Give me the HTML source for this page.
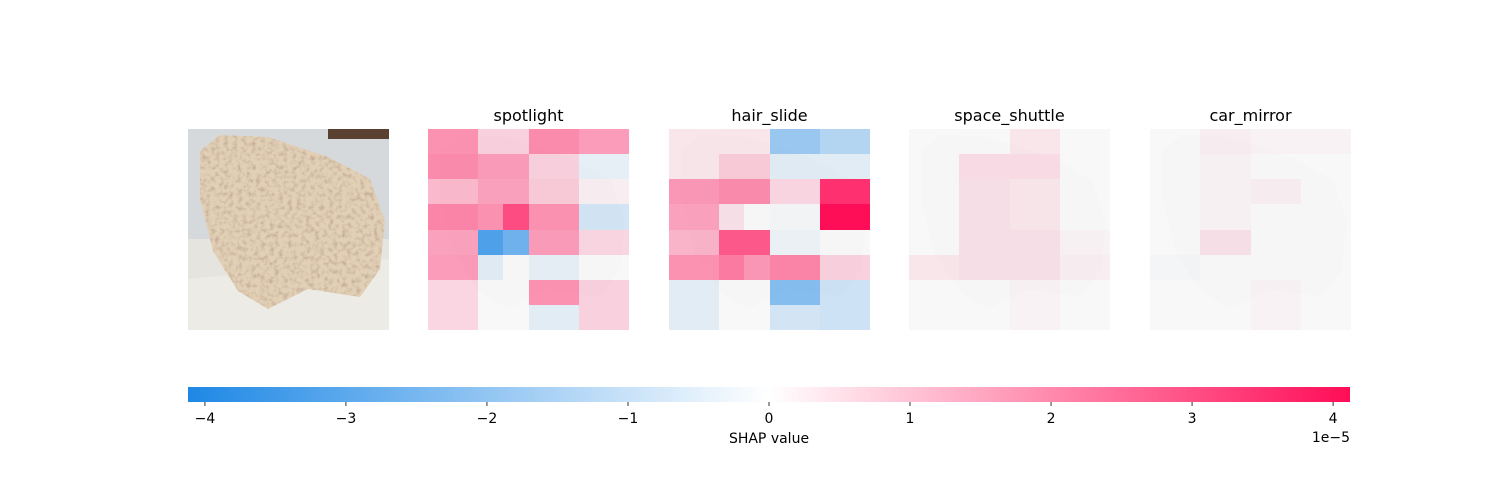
<!DOCTYPE html>
<html><head><meta charset="utf-8"><style>
html,body{margin:0;padding:0;background:#fff;width:1500px;height:500px;overflow:hidden;font-family:"Liberation Sans","DejaVu Sans",sans-serif;}
svg text{font-family:"DejaVu Sans","Liberation Sans",sans-serif;}
</style></head><body>
<svg id="chart" width="1500" height="500" xmlns="http://www.w3.org/2000/svg">
<defs>
<filter id="tex" x="0" y="0" width="100%" height="100%">
<feTurbulence type="fractalNoise" baseFrequency="0.22" numOctaves="3" seed="4" result="n"/>
<feColorMatrix in="n" type="matrix" values="0 0 0 0 0.55  0 0 0 0 0.4  0 0 0 0 0.3  0 0 0 -2.2 1.25" result="spots"/>
<feComposite in="spots" in2="SourceGraphic" operator="in" result="s2"/>
<feMerge><feMergeNode in="SourceGraphic"/><feMergeNode in="s2"/></feMerge>
</filter>
<clipPath id="imgclip"><rect x="0" y="0" width="201" height="201"/></clipPath>
<linearGradient id="cbar" x1="0" x2="1" y1="0" y2="0">
<stop offset="0" stop-color="rgb(30,136,229)"/>
<stop offset="0.5" stop-color="rgb(255,255,255)"/>
<stop offset="1" stop-color="rgb(255,13,87)"/>
</linearGradient>
<g id="cakeGray">
<rect x="0" y="0" width="201" height="201" fill="#d4d4d4"/>
<polygon points="12,22 32,6 80,8 140,28 182,50 197,92 192,140 172,168 120,160 80,180 50,162 25,122 12,70" fill="#c4c4c4"/>
</g>
</defs>
<g id="orig" transform="translate(188,129)" clip-path="url(#imgclip)">
<rect x="0" y="0" width="201" height="201" fill="#d6d9db"/>
<rect x="140" y="0" width="61" height="10" fill="#5a4030"/>
<rect x="0" y="110" width="201" height="91" fill="#e6e4de"/>
<polygon points="0,150 201,130 201,201 0,201" fill="#ecebe6"/>
<polygon points="12,22 32,6 80,8 140,28 182,50 197,92 192,140 172,168 120,160 80,180 50,162 25,122 12,70" fill="#e2d0b6" filter="url(#tex)"/>
</g>
<g id="panels"></g>
<g id="cbarg">
<rect x="188" y="387" width="1162" height="15" fill="url(#cbar)"/>
</g>
<g id="cticks"></g>
<text x="769" y="443" text-anchor="middle" font-size="14" fill="#000">SHAP value</text>
<text x="1350" y="442" text-anchor="end" font-size="14" fill="#000">1e−5</text>
</svg>
<script>
const classNames = ["spotlight","hair_slide","space_shuttle","car_mirror"];
const spotlight = [
[1.8,1.8,0.7,0.7,1.9,1.9,1.6,1.6],
[1.9,1.9,1.6,1.6,0.7,0.7,-0.3,-0.3],
[1.1,1.1,1.5,1.5,0.8,0.8,0.2,0.2],
[2.0,2.0,1.8,3.0,1.8,1.8,-0.7,-0.7],
[1.5,1.5,-3.2,-2.6,1.6,1.6,0.6,0.6],
[1.6,1.6,-0.4,0.0,-0.3,-0.3,0.0,0.0],
[0.6,0.6,0.0,0.0,1.8,1.8,0.7,0.7],
[0.6,0.6,0.0,0.0,-0.4,-0.4,0.7,0.7]];
const hairSlide = [
[0.3,0.3,0.3,0.3,-1.8,-1.8,-1.3,-1.3],
[0.3,0.3,0.8,0.8,-0.4,-0.4,-0.4,-0.4],
[1.7,1.7,1.9,1.9,0.6,0.6,3.5,3.5],
[1.5,1.5,0.4,0.0,-0.1,-0.1,4.1,4.1],
[1.2,1.2,2.8,2.8,-0.2,-0.2,0.0,0.0],
[1.8,1.8,2.2,1.7,2.0,2.0,0.7,0.7],
[-0.4,-0.4,0.0,0.0,-2.2,-2.2,-0.8,-0.8],
[-0.4,-0.4,0.0,0.0,-0.7,-0.7,-0.8,-0.8]];
const spaceShuttle = [
[0.0,0.0,0.0,0.0,0.3,0.3,0.0,0.0],
[0.0,0.0,0.5,0.5,0.5,0.5,0.0,0.0],
[0.0,0.0,0.4,0.4,0.3,0.3,0.0,0.0],
[0.0,0.0,0.4,0.4,0.3,0.3,0.0,0.0],
[0.0,0.0,0.4,0.4,0.4,0.4,0.1,0.1],
[0.3,0.3,0.4,0.4,0.4,0.4,0.2,0.2],
[0.0,0.0,0.0,0.0,0.1,0.1,0.0,0.0],
[0.0,0.0,0.0,0.0,0.1,0.1,0.0,0.0]];
const carMirror = [
[0.0,0.0,0.2,0.2,0.1,0.1,0.1,0.1],
[0.0,0.0,0.1,0.1,0.0,0.0,0.0,0.0],
[0.0,0.0,0.1,0.1,0.2,0.2,0.0,0.0],
[0.0,0.0,0.1,0.1,0.0,0.0,0.0,0.0],
[0.0,0.0,0.4,0.4,0.0,0.0,0.0,0.0],
[-0.1,-0.1,0.0,0.0,0.0,0.0,0.0,0.0],
[0.0,0.0,0.0,0.0,0.1,0.1,0.0,0.0],
[0.0,0.0,0.0,0.0,0.1,0.1,0.0,0.0]];
const tickValues = [-4,-3,-2,-1,0,1,2,3,4];
const tickLabels = ["−4","−3","−2","−1","0","1","2","3","4"];
const vmax = 4.12;

const NS="http://www.w3.org/2000/svg";
const panelX = [428,669,909,1150], panelY=129, panelS=201, cell=panelS/8;
const cbX0=188, cbX1=1350;
function xScale(v){return cbX0+(v+vmax)/(2*vmax)*(cbX1-cbX0);}
function color(v){
  const t=Math.min(1,Math.abs(v)/vmax);
  return v>=0 ? {c:"rgb(255,13,87)",a:t} : {c:"rgb(30,136,229)",a:t};
}
const data=[spotlight,hairSlide,spaceShuttle,carMirror];
const pg=document.getElementById('panels');
data.forEach((grid,k)=>{
  const g=document.createElementNS(NS,'g');
  g.setAttribute('transform',`translate(${panelX[k]},${panelY})`);
  g.setAttribute('shape-rendering','crispEdges');
  
  
  const u=document.createElementNS(NS,'use');
  u.setAttribute('href','#cakeGray');u.setAttribute('opacity','0.15');
  g.appendChild(u);
  grid.forEach((row,r)=>row.forEach((v,c)=>{
    const cl=color(v);
    const x0=Math.round(c*cell), x1=Math.round((c+1)*cell);
    const y0=Math.round(r*cell), y1=Math.round((r+1)*cell);
    const re=document.createElementNS(NS,'rect');
    re.setAttribute('x',x0);re.setAttribute('y',y0);
    re.setAttribute('width',x1-x0);re.setAttribute('height',y1-y0);
    re.setAttribute('fill',cl.c);re.setAttribute('fill-opacity',cl.a);
    
    
    g.appendChild(re);
  }));
  pg.appendChild(g);
  const t=document.createElementNS(NS,'text');
  t.setAttribute('x',panelX[k]+panelS/2);t.setAttribute('y',121);
  t.setAttribute('text-anchor','middle');t.setAttribute('font-size','16');
  t.textContent=classNames[k];
  
  
  pg.appendChild(t);
});
const tg=document.getElementById('cticks');
tickValues.forEach((v,i)=>{
  const x=xScale(v);
  const l=document.createElementNS(NS,'line');
  l.setAttribute('x1',x);l.setAttribute('x2',x);l.setAttribute('y1',402);l.setAttribute('y2',406);
  l.setAttribute('stroke','#000');l.setAttribute('stroke-width','0.8');
  
  
  tg.appendChild(l);
  const t=document.createElementNS(NS,'text');
  t.setAttribute('x',x);t.setAttribute('y',423);t.setAttribute('text-anchor','middle');
  t.setAttribute('font-size','14');t.textContent=tickLabels[i];
  
  
  tg.appendChild(t);
});
</script>
</body></html>
